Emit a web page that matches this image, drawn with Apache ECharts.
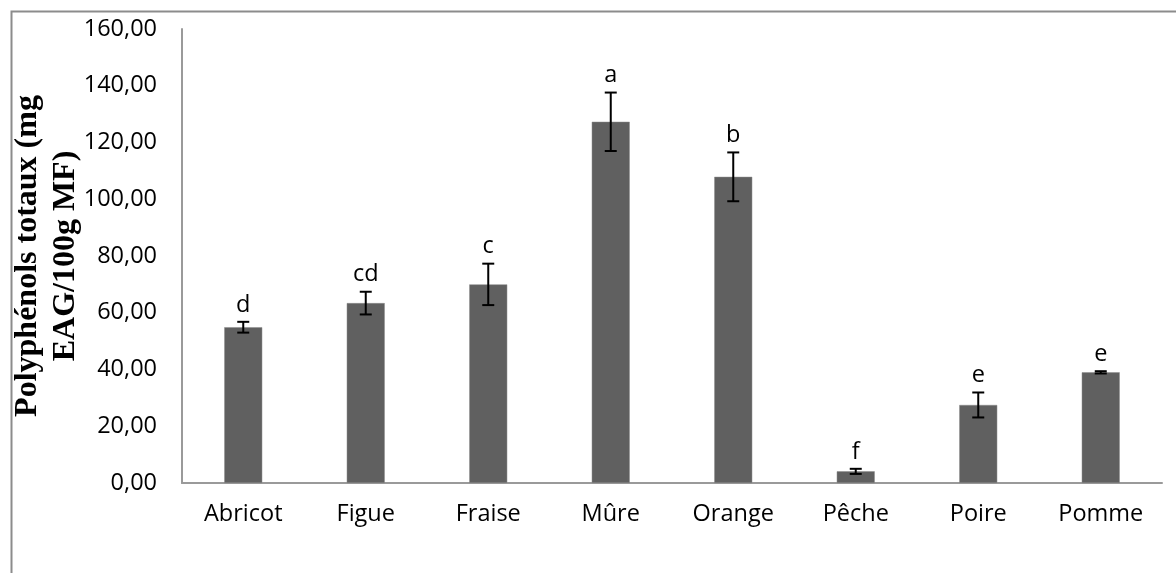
<!DOCTYPE html>
<html>
<head>
<meta charset="utf-8">
<script src="https://cdn.jsdelivr.net/npm/echarts@6/dist/echarts.min.js"></script>
<style>
html,body{margin:0;padding:0;background:#fff;}
#chart{width:1176px;height:573px;}
</style>
</head>
<body>
<div id="chart"></div>
<script>
const categories = ['Abricot', 'Figue', 'Fraise', 'Mûre', 'Orange', 'Pêche', 'Poire', 'Pomme'];
const means = [54.9, 63.4, 70.0, 127.3, 107.9, 4.1, 27.5, 39.0];
const errors = [1.9, 4.0, 7.3, 10.3, 8.6, 0.9, 4.4, 0.4];
const letters = ['d', 'cd', 'c', 'a', 'b', 'f', 'e', 'e'];
const yTicks = { min: 0, max: 160, interval: 20 };

const chart = echarts.init(document.getElementById('chart'));
const sansFont = '"Open Sans", sans-serif';

const errData = categories.map((c, i) => [i, means[i], errors[i]]);

chart.setOption({
  animation: false,
  backgroundColor: '#fff',
  graphic: [{
    type: 'rect',
    left: 9, top: 9,
    shape: { width: 1400, height: 800 },
    style: { fill: 'none', stroke: '#8c8c8c', lineWidth: 2 },
    silent: true, z: -10
  }],
  grid: { left: 182, right: 14, top: 29, bottom: 90, containLabel: false, outerBoundsMode: 'none' },
  xAxis: {
    type: 'category',
    data: categories,
    axisLine: { lineStyle: { color: '#9a9a9a', width: 2 } },
    axisTick: { show: false },
    axisLabel: { color: '#000', fontFamily: sansFont, fontSize: 23.5, margin: 19 }
  },
  yAxis: {
    type: 'value',
    min: yTicks.min, max: yTicks.max, interval: yTicks.interval,
    name: 'Polyphénols totaux (mg\nEAG/100g MF)',
    nameLocation: 'middle',
    nameRotate: 90,
    nameGap: 97,
    nameMoveOverlap: false,
    nameTextStyle: {
      fontFamily: '"Liberation Serif", "Times New Roman", serif',
      fontWeight: 'bold', fontSize: 32, color: '#000', lineHeight: 38
    },
    axisLine: { show: true, lineStyle: { color: '#9a9a9a', width: 2 } },
    axisTick: { show: false },
    splitLine: { show: false },
    axisLabel: {
      color: '#000', fontFamily: sansFont, fontSize: 23.5, margin: 25,
      formatter: v => v.toFixed(2).replace('.', ',')
    }
  },
  series: [{
    type: 'bar',
    data: means,
    barWidth: '31%',
    itemStyle: { color: '#606060', borderColor: '#8a8a8a', borderWidth: 0.5 }
  }, {
    type: 'custom',
    data: errData,
    z: 10,
    renderItem: function (params, api) {
      const i = api.value(0), m = api.value(1), e = api.value(2);
      const top = api.coord([i, m + e]);
      const bot = api.coord([i, m - e]);
      const hw = 6;
      const ls = { stroke: '#000', lineWidth: 2 };
      return {
        type: 'group',
        children: [
          { type: 'line', shape: { x1: top[0], y1: top[1], x2: bot[0], y2: bot[1] }, style: ls },
          { type: 'line', shape: { x1: top[0] - hw, y1: top[1], x2: top[0] + hw, y2: top[1] }, style: ls },
          { type: 'line', shape: { x1: bot[0] - hw, y1: bot[1], x2: bot[0] + hw, y2: bot[1] }, style: ls },
          { type: 'text', style: {
              x: top[0], y: top[1] - 5, text: letters[params.dataIndex],
              textAlign: 'center', textVerticalAlign: 'bottom',
              fontFamily: sansFont, fontSize: 23.5, fill: '#000'
          } }
        ]
      };
    }
  }]
});
</script>
</body>
</html>
